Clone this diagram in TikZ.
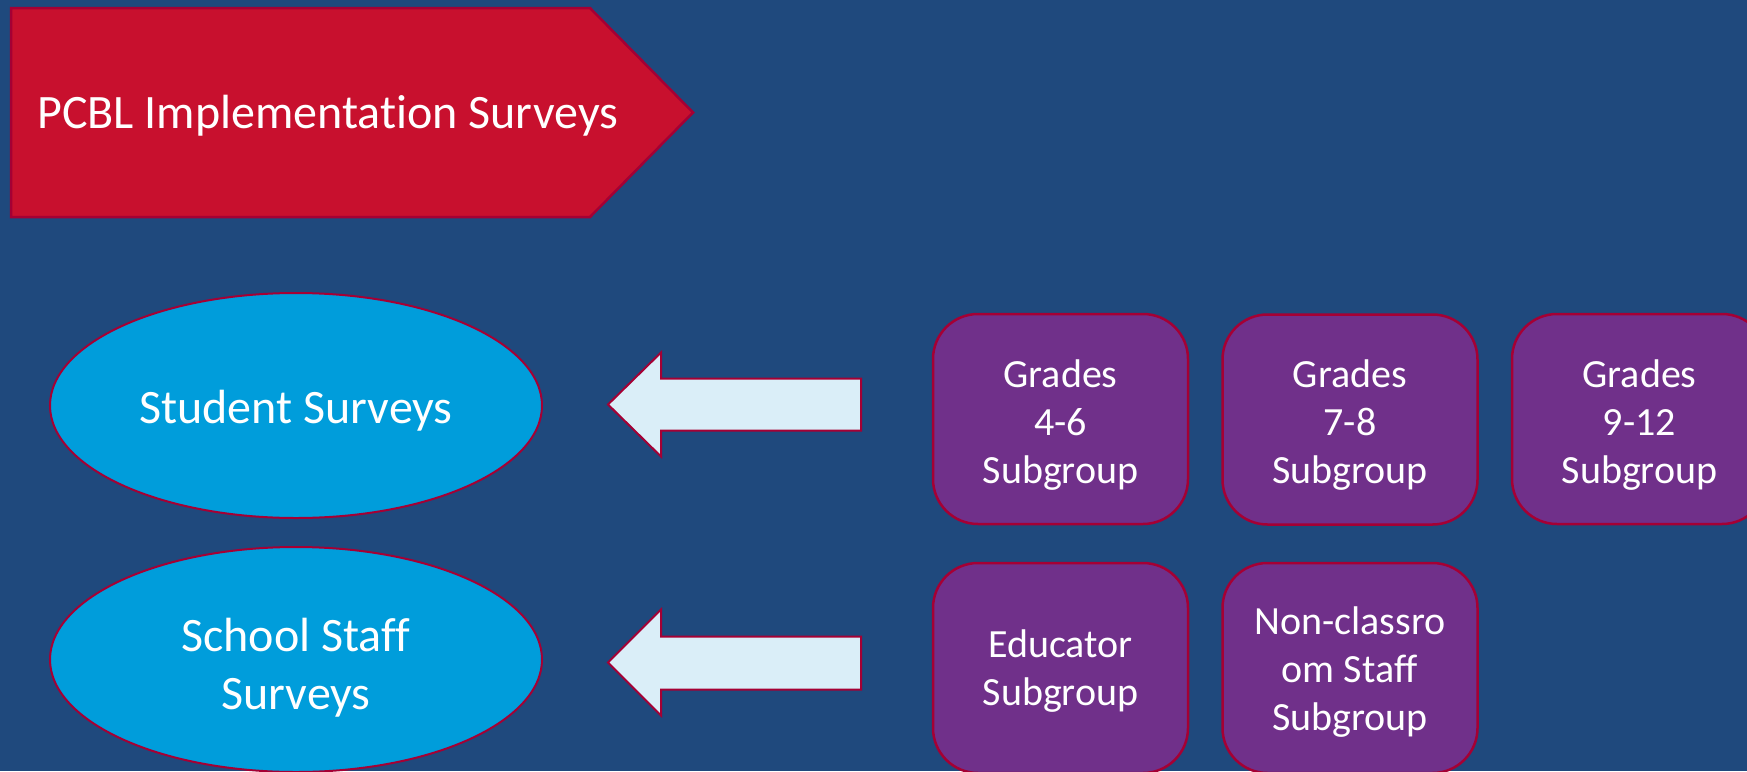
\documentclass[tikz,border=0pt]{standalone}
\usepackage{fontspec}
\setmainfont{Carlito}[Ligatures={CommonOff,ContextualOff,RequiredOff},Contextuals=AlternateOff]
\usetikzlibrary{shapes.geometric}
\definecolor{bgblue}{RGB}{31,73,125}
\definecolor{titlered}{RGB}{200,16,46}
\definecolor{edgered}{RGB}{165,0,52}
\definecolor{skyblue}{RGB}{0,157,219}
\definecolor{paleblue}{RGB}{218,238,248}
\definecolor{grpurple}{RGB}{112,48,138}
\begin{document}
\begin{tikzpicture}[x=1pt,y=-1pt,
  titleshape/.style={fill=titlered,draw=edgered,line width=2.5pt,line join=miter},
  titletext/.style={text=white,font=\fontsize{48}{57.6}\selectfont,anchor=west,inner sep=0pt},
  survey/.style={ellipse,fill=skyblue,draw=edgered,line width=2pt,minimum width=492pt,minimum height=225pt,inner sep=0pt},
  surveytext/.style={text=white,align=center,inner sep=0pt,font=\fontsize{48}{57.6}\selectfont},
  bigarrow/.style={fill=paleblue,draw=edgered,line width=2pt,line join=miter},
  subgroup/.style={rectangle,rounded corners=45pt,fill=grpurple,draw=edgered,line width=2.5pt,minimum width=255pt,minimum height=210pt,inner sep=0pt},
  grouptext/.style={text=white,align=center,inner sep=0pt,font=\fontsize{40}{48}\selectfont}]
\useasboundingbox (0,0) rectangle (1747,771);
\fill[bgblue] (0,0) rectangle (1747,771);
\clip (0,0) rectangle (1747,771);

% title pentagon
\draw[titleshape] (11,8) -- (590,8) -- (693,112.5) -- (590,217) -- (11,217) -- cycle;
\node[titletext] (title) at (37,116) {PCBL Implementation Surveys};

% ellipses
\node[survey] (student) at (296,405.5) {};
\node[surveytext] (studentt) at ([yshift=-5.5pt]student.center) {Student Surveys};
\node[survey] (staff) at (296,659.5) {};
\node[surveytext] (stafft) at ([yshift=-8pt]staff.center) {School Staff\\Surveys};

% block arrows
\coordinate (a1) at (608,404.5);
\draw[bigarrow] (a1) -- ++(53,-52) -- ++(0,26) -- ++(200,0) -- ++(0,52) -- ++(-200,0) -- ++(0,26) -- cycle;
\coordinate (a2) at (608,662.5);
\draw[bigarrow] (a2) -- ++(53,-53) -- ++(0,27) -- ++(200,0) -- ++(0,53) -- ++(-200,0) -- ++(0,26) -- cycle;

% subgroup boxes
\node[subgroup] (g46) at (1060.5,419) {};
\node[grouptext] (g46t) at ([yshift=-6pt]g46.center) {Grades\\4-6\\Subgroup};
\node[subgroup] (g78) at (1350,419.5) {};
\node[grouptext] (g78t) at ([yshift=-6pt]g78.center) {Grades\\7-8\\Subgroup};
\node[subgroup] (g912) at (1639.5,419) {};
\node[grouptext] (g912t) at ([yshift=-6pt]g912.center) {Grades\\9-12\\Subgroup};
\node[subgroup] (edu) at (1060.5,668) {};
\node[grouptext] (edut) at ([yshift=-3.5pt]edu.center) {Educator\\Subgroup};
\node[subgroup] (noncl) at (1350,668) {};
\node[grouptext] (noncltt) at ([yshift=-4pt]noncl.center) {Non-classro\\om Staff\\Subgroup};
\end{tikzpicture}
\end{document}
